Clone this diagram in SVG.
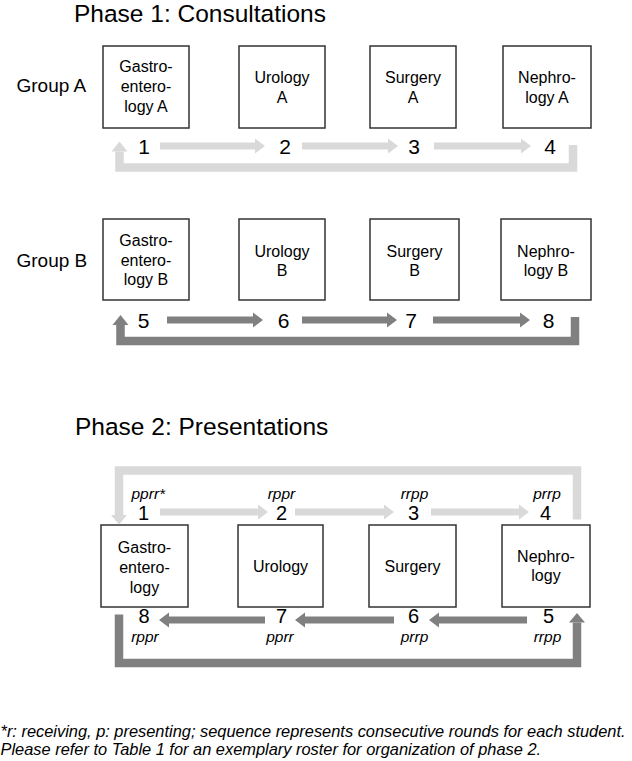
<svg xmlns="http://www.w3.org/2000/svg" width="632" height="761" viewBox="0 0 632 761">
<style>
text{font-family:"Liberation Sans",Arial,sans-serif;fill:#000}
.title{font-size:24.5px}
.grp{font-size:19px}
.lbl{font-size:16px;text-anchor:middle}
.num{font-size:21px;text-anchor:middle}
.num2{font-size:20px;text-anchor:middle}
.it{font-size:15.5px;font-style:italic;text-anchor:middle}
.foot{font-size:16.4px;font-style:italic}
.box{fill:#fff;stroke:#333;stroke-width:1.5}
.lt{fill:#d9d9d9}
.dk{fill:#808080}
.ltl{fill:none;stroke:#d9d9d9;stroke-width:8.5}
.dkl{fill:none;stroke:#808080;stroke-width:8.5}
</style>
<text class="title" x="74" y="22">Phase 1: Consultations</text>
<text class="grp" x="16.5" y="92">Group A</text>
<text class="grp" x="16.5" y="267">Group B</text>

<g id="ga-gastro"><rect class="box" x="103" y="46" width="86" height="82"/><text class="lbl" x="146" y="72">Gastro-</text><text class="lbl" x="146" y="92">entero-</text><text class="lbl" x="146" y="112">logy A</text></g>
<g id="ga-uro"><rect class="box" x="239" y="46" width="86" height="82"/><text class="lbl" x="282" y="83">Urology</text><text class="lbl" x="282" y="103">A</text></g>
<g id="ga-surg"><rect class="box" x="370" y="46" width="86" height="82"/><text class="lbl" x="413" y="83">Surgery</text><text class="lbl" x="413" y="103">A</text></g>
<g id="ga-neph"><rect class="box" x="503" y="46" width="88" height="82"/><text class="lbl" x="547" y="83">Nephro-</text><text class="lbl" x="547" y="103">logy A</text></g>

<g id="gb-gastro"><rect class="box" x="103" y="219" width="86" height="81"/><text class="lbl" x="146" y="246">Gastro-</text><text class="lbl" x="146" y="265.5">entero-</text><text class="lbl" x="146" y="285">logy B</text></g>
<g id="gb-uro"><rect class="box" x="239" y="219" width="86" height="81"/><text class="lbl" x="282" y="257">Urology</text><text class="lbl" x="282" y="276">B</text></g>
<g id="gb-surg"><rect class="box" x="370" y="219" width="89" height="81"/><text class="lbl" x="414.5" y="257">Surgery</text><text class="lbl" x="414.5" y="276">B</text></g>
<g id="gb-neph"><rect class="box" x="501" y="219" width="90" height="81"/><text class="lbl" x="546" y="257">Nephro-</text><text class="lbl" x="546" y="276">logy B</text></g>

<g id="nums1">
<text class="num" x="144" y="154">1</text><text class="num" x="285" y="154">2</text><text class="num" x="414" y="154">3</text><text class="num" x="550" y="154">4</text>
<text class="num" x="143.5" y="327.5">5</text><text class="num" x="283.5" y="327.5">6</text><text class="num" x="411" y="327.5">7</text><text class="num" x="548.5" y="327.5">8</text>
</g>

<text class="title" x="75" y="435">Phase 2: Presentations</text>

<g id="p2-gastro"><rect class="box" x="101" y="525" width="87" height="82"/><text class="lbl" x="144.5" y="553">Gastro-</text><text class="lbl" x="144.5" y="573">entero-</text><text class="lbl" x="144.5" y="592.5">logy</text></g>
<g id="p2-uro"><rect class="box" x="238" y="525" width="85" height="82"/><text class="lbl" x="280.5" y="572">Urology</text></g>
<g id="p2-surg"><rect class="box" x="369" y="525" width="87" height="82"/><text class="lbl" x="412.5" y="572">Surgery</text></g>
<g id="p2-neph"><rect class="box" x="502" y="525" width="88" height="82"/><text class="lbl" x="546" y="562">Nephro-</text><text class="lbl" x="546" y="581">logy</text></g>

<g id="nums2">
<text class="num2" x="143.5" y="520">1</text><text class="num2" x="281.5" y="520">2</text><text class="num2" x="413.5" y="520">3</text><text class="num2" x="545.5" y="520">4</text>
<text class="num2" x="144" y="623">8</text><text class="num2" x="281.5" y="623">7</text><text class="num2" x="413.5" y="623">6</text><text class="num2" x="548.5" y="623">5</text>
<text class="it" x="131.5" y="499" style="text-anchor:start">pprr*</text>
<text class="it" x="281.5" y="499">rppr</text>
<text class="it" x="414.5" y="499">rrpp</text>
<text class="it" x="547" y="499">prrp</text>
<text class="it" x="145" y="642">rppr</text>
<text class="it" x="280" y="642">pprr</text>
<text class="it" x="414.5" y="642">prrp</text>
<text class="it" x="547.5" y="642">rrpp</text>
</g>

<g id="connectors">
<polygon class="lt" points="160,142.5 255,142.5 255,138.5 265,146 255,153.5 255,149.5 160,149.5"/>
<polygon class="lt" points="302,142.5 388,142.5 388,138.5 398,146 388,153.5 388,149.5 302,149.5"/>
<polygon class="lt" points="434,142.5 521,142.5 521,138.5 531,146 521,153.5 521,149.5 434,149.5"/>
<path class="ltl" d="M573,145 V167.5 H119.5 V151.5"/>
<polygon class="lt" points="111.5,151.5 119.5,141.5 127.5,151.5"/>

<polygon class="dk" points="167,316.5 253,316.5 253,312.5 263,320 253,327.5 253,323.5 167,323.5"/>
<polygon class="dk" points="302,316.5 387,316.5 387,312.5 397,320 387,327.5 387,323.5 302,323.5"/>
<polygon class="dk" points="433,316.5 520,316.5 520,312.5 530,320 520,327.5 520,323.5 433,323.5"/>
<path class="dkl" d="M575,317 V341 H120.5 V325"/>
<polygon class="dk" points="112.5,325 120.5,315 128.5,325"/>

<polygon class="lt" points="160,508.5 258,508.5 258,504.5 268,512 258,519.5 258,515.5 160,515.5"/>
<polygon class="lt" points="295,508.5 384,508.5 384,504.5 394,512 384,519.5 384,515.5 295,515.5"/>
<polygon class="lt" points="431,508.5 519,508.5 519,504.5 529,512 519,519.5 519,515.5 431,515.5"/>
<path class="ltl" d="M577,519.5 V470.5 H119 V515"/>
<polygon class="lt" points="111,515 119,524.5 127,515"/>

<polygon class="dk" points="527,616.5 439,616.5 439,612.5 429,620 439,627.5 439,623.5 527,623.5"/>
<polygon class="dk" points="394,616.5 305,616.5 305,612.5 295,620 305,627.5 305,623.5 394,623.5"/>
<polygon class="dk" points="265,616.5 169,616.5 169,612.5 159,620 169,627.5 169,623.5 265,623.5"/>
<path class="dkl" d="M119,614.5 V663 H577 V622.5"/>
<polygon class="dk" points="569,622.5 577,613 585,622.5"/>
</g>

<text class="foot" x="0.5" y="736.5">*r: receiving, p: presenting; sequence represents consecutive rounds for each student.</text>
<text class="foot" x="0.5" y="755">Please refer to Table 1 for an exemplary roster for organization of phase 2.</text>
</svg>
